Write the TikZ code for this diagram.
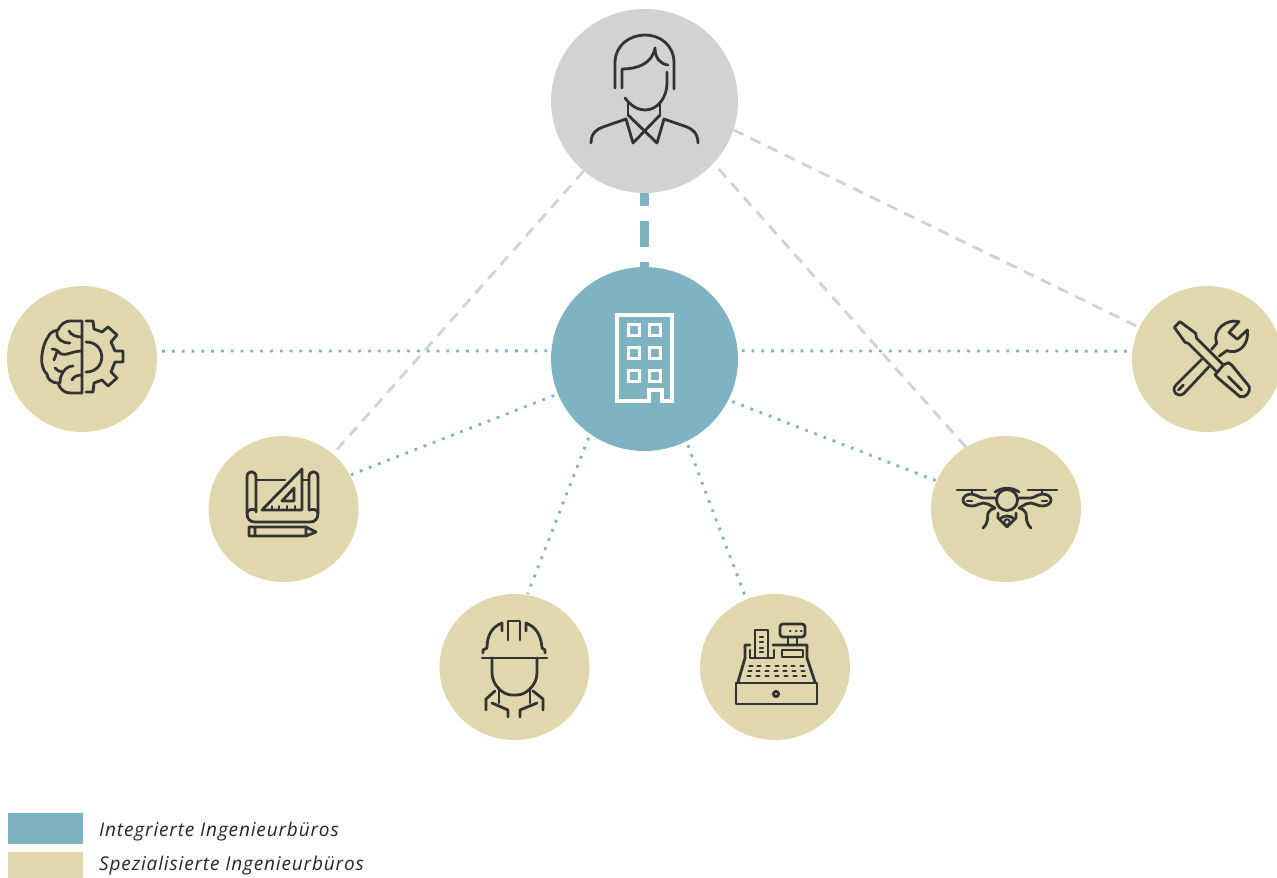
\documentclass[tikz,border=0pt]{standalone}
\usepackage{fontspec}
\usepackage{xcolor}
\usepackage{tikz}
\usetikzlibrary{arrows,shapes,decorations}
\setmainfont{Open Sans}
\newfontfamily\legendfont[LetterSpace=4.5]{Open Sans}
\definecolor{hubteal}{HTML}{80B3C2}
\definecolor{sand}{HTML}{E0D8AC}
\definecolor{topgray}{HTML}{D1D2D4}
\definecolor{linegray}{HTML}{D2D2D2}
\definecolor{iconink}{HTML}{333333}
\tikzset{
  bubble/.style={ellipse, minimum width=150pt, minimum height=146pt, inner sep=0pt, fill=sand},
  bigbubble/.style={ellipse, minimum width=187pt, minimum height=184pt, inner sep=0pt},
  dotline/.style={draw=hubteal, line width=2.8pt, dash pattern=on 2.8pt off 7pt, shorten >=1pt, shorten <=4pt},
  dashline/.style={draw=linegray, line width=2.8pt, dash pattern=on 11pt off 8pt},
  icon/.style={draw=iconink, line width=2.8pt, line cap=round, line join=round},
  whiteicon/.style={draw=white, line width=3.4pt, line join=miter},
  legendbox/.style={minimum width=75pt, inner sep=0pt, anchor=north west},
  legendtext/.style={anchor=base west, inner sep=0pt, font=\legendfont\fontsize{19pt}{22pt}\selectfont\itshape, text=black!85}
}
\begin{document}
\begin{tikzpicture}[x=1pt, y=-1pt]
\useasboundingbox (0,0) rectangle (1277,878);
% circles
\node[bigbubble, fill=topgray] (person) at (644.5,101) {};
\node[bigbubble, fill=hubteal] (hub) at (644.5,359) {};
\node[bubble] (brain) at (82,359) {};
\node[bubble] (plan) at (283.5,509) {};
\node[bubble] (helmet) at (514.5,667) {};
\node[bubble] (till) at (775,667) {};
\node[bubble] (drone) at (1006,509) {};
\node[bubble] (tools) at (1207,359) {};
% connectors
\foreach \a/\b in {person.229/plan.48, drone.123/person.-42, person.-18/tools.155}
\draw[dashline] (\a) -- (\b);
\foreach \a/\b in {hub.175/brain.6, hub.5/tools.174, hub.202/plan.27, hub.-126/helmet.80,
                   hub.-63/till.113, hub.-26/drone.158}
\draw[dotline] (\a) -- (\b);
\draw[draw=hubteal, line width=9pt, dash pattern=on 26pt off 15pt, dash phase=13pt] (person.south) -- (hub.north);
% person
\draw[icon] (615,88) -- (615,63) .. controls (615,45) and (630,35) .. (645,35)
  .. controls (660,35) and (674,45) .. (674,63) -- (674,89);
\draw[icon] (622,88) -- (622,69) .. controls (637,69) and (652,64) .. (655,48)
  .. controls (655,58) and (660,64) .. (668,65);
\draw[icon] (625,98) .. controls (631,106) and (638,110) .. (645,110)
  .. controls (658,110) and (667,97) .. (667,83) -- (667,72);
\draw[icon] (628,103) -- (628,115) (660,103) -- (660,115);
\draw[icon] (591,143) .. controls (591,133) and (597,129) .. (603,127) -- (626,119) -- (633,143) -- (660,115);
\draw[icon] (698,143) .. controls (698,133) and (692,129) .. (687,127) -- (664,119) -- (657,143) -- (628,115);
% building
\draw[whiteicon] (617,315) -- (672,315) -- (672,401) -- (662,401) -- (662,390) -- (649,390) -- (649,401) -- (617,401) -- cycle;
\foreach \x in {634,655}
\foreach \y in {330,353,376}
\draw[whiteicon, xshift=\x pt, yshift=-\y pt] (-5.5,-5.5) rectangle (5.5,5.5);
% brain and gear
\draw[icon] (82,321) -- (82,393) -- (70,393) .. controls (64,393) and (60,389) .. (58,383)
  .. controls (52,383) and (47,379) .. (47,374) .. controls (42,370) and (41,360) .. (42,355)
  .. controls (43,347) and (45,341) .. (48,337) .. controls (50,332) and (54,331) .. (58,330)
  .. controls (60,325) and (65,321) .. (70,321) -- (82,321);
\draw[icon] (69,331) .. controls (71,335) and (76,337) .. (82,337);
\draw[icon] (57,332) .. controls (56,339) and (62,343) .. (70,343);
\draw[icon] (52,349) .. controls (56,349) and (58,351) .. (61,354) .. controls (67,356) and (72,351) .. (82,351);
\draw[icon] (57,352) -- (54,360);
\draw[icon] (55,368) .. controls (58,371) and (60,372) .. (63,372) .. controls (66,368) and (69,366) .. (73,366);
\draw[icon] (60,383) .. controls (60,378) and (61,375) .. (63,372);
\draw[icon] (72,380) .. controls (73,377) and (77,375) .. (82,375);
\draw[icon] (86,321) -- (93,321) -- (94,329) -- (102,332) -- (108,327) -- (117,335) -- (111,342) -- (115,351)
  -- (123,351) -- (123,362) -- (115,362) -- (111,372) -- (117,378) -- (108,386) -- (102,380) -- (94,383) -- (93,392) -- (86,392);
\draw[icon] (86,342) .. controls (107,342) and (107,372) .. (86,372);
% plan
\draw[icon] (256,512) -- (256,477) .. controls (256,470) and (247,470) .. (247,477) -- (247,513)
  .. controls (247,519) and (250,522) .. (255,522) -- (310,522) .. controls (315,522) and (318,519) .. (318,513)
  -- (318,477) .. controls (318,470) and (309,470) .. (309,477) -- (309,510);
\draw[icon] (247,513) .. controls (248,509) and (252,509) .. (256,510) (318,513) .. controls (317,509) and (313,509) .. (309,510);
\draw[icon] (256,480) -- (285,480) (302,480) -- (309,480);
\draw[icon] (302,469) -- (302,510) -- (262,510) -- cycle;
\draw[icon] (294,488) -- (294,501) -- (282,501) -- cycle;
\foreach \x in {272,279,287,295}
\draw[icon, line width=1.8pt] (\x,510) -- (\x,506);
\draw[icon] (249,527) -- (306,527) -- (316,532) -- (306,536) -- (249,536) -- cycle (255,527) -- (255,536) (306,527) -- (306,536);
% helmet
\draw[icon] (482,658) -- (547,658);
\draw[icon] (483,653) -- (483,650) -- (487,648) .. controls (487,635) and (492,627) .. (502,623) -- (502,631);
\draw[icon] (508,640) -- (508,621) -- (520,621) -- (520,640);
\draw[icon] (545,653) -- (545,650) -- (542,648) .. controls (541,635) and (536,627) .. (526,623) -- (526,631);
\draw[icon] (492,658) -- (492,673) .. controls (492,685) and (503,695) .. (512,695) -- (517,695)
  .. controls (526,695) and (537,685) .. (537,673) -- (537,658);
\draw[icon] (499,688) -- (499,703) (530,688) -- (530,703);
\draw[icon] (495,691) -- (486,699) -- (486,710) (492,703) -- (508,710) -- (508,717);
\draw[icon] (533,691) -- (543,699) -- (543,710) (537,703) -- (520,710) -- (520,717);
% till
\draw[icon] (736,683) rectangle (817,704);
\draw[icon] (776,694) circle (2.6);
\draw[icon] (738,682) -- (745,658) -- (745,645) -- (750,645);
\draw[icon] (815,682) -- (807,658) -- (807,645) -- (773,645);
\draw[icon] (750,650) -- (750,658) -- (774,658) -- (774,650);
\draw[icon] (755,658) -- (755,630) -- (768,630) -- (768,658);
\foreach \y in {637,642,648,652}
\draw[icon, line width=2.2pt] (760,\y) -- (763,\y);
\draw[icon, rounded corners=3pt] (780,624) rectangle (805,637);
\foreach \x in {790,796,801}
\draw[icon, line width=2.2pt] (\x,631) -- (\x+0.5,631);
\draw[icon] (788,637) -- (788,645) (797,637) -- (797,645);
\draw[icon] (782,650) rectangle (803,657);
\foreach \x in {751,759,768,777,785,793,802}
\draw[icon, line width=2.2pt] (\x-1.5,666) -- (\x+1.5,666);
\foreach \x in {750,758,767,776,785,794,803}
\draw[icon, line width=2.2pt] (\x-1.5,671) -- (\x+1.5,671);
\foreach \x in {749,758,767,777,786,795,804}
\draw[icon, line width=2.2pt] (\x-1.5,676) -- (\x+1.5,676);
% drone
\draw[icon] (1007,500) circle (10.5);
\draw[icon] (995,492) .. controls (1002,487) and (1012,487) .. (1019,492);
\draw[icon] (957,490) -- (986,490) (1028,490) -- (1057,490) (972,490) -- (972,494) (1042,490) -- (1042,494);
\draw[icon] (995,498) -- (983,498) .. controls (978,497) and (976,494) .. (972,494)
  .. controls (960,494) and (960,506) .. (972,506) .. controls (977,506) and (979,503) .. (983,503) -- (988,504) -- (995,508);
\draw[icon] (1019,498) -- (1031,498) .. controls (1036,497) and (1038,494) .. (1042,494)
  .. controls (1054,494) and (1054,506) .. (1042,506) .. controls (1037,506) and (1035,503) .. (1031,503) -- (1026,504) -- (1019,508);
\draw[icon] (967,501) -- (972,501) (1042,501) -- (1047,501);
\draw[icon] (983,528) .. controls (989,522) and (987,518) .. (988,513) .. controls (989,510) and (992,509) .. (995,508);
\draw[icon] (1031,528) .. controls (1025,522) and (1027,518) .. (1026,513) .. controls (1025,510) and (1022,509) .. (1019,508);
\draw[icon] (998,513) -- (998,518) -- (1007,527) -- (1016,518) -- (1016,513);
\draw[icon] (1000,519) .. controls (1003,515) and (1011,515) .. (1014,519);
\draw[icon, line width=2pt] (1007,522) circle (2.8);
% tools
\begin{scope}[xshift=1160pt, yshift=-310pt, scale=1/3]
\draw[icon] (43,52) -- (60,35) -- (107,70) -- (110,85) -- (190,165) (85,100) -- (75,97) -- (43,52) (85,100) -- (170,185);
\draw[icon] (190,165) -- (205,158) -- (215,165) -- (268,230) .. controls (272,245) and (258,265) .. (240,260)
  -- (175,205) -- (165,195) -- (190,165);
\draw[icon] (205,200) -- (245,240);
\draw[icon] (155,118) -- (170,100) .. controls (155,60) and (200,25) .. (237,35) -- (207,67) -- (232,88) -- (262,60)
  .. controls (268,105) and (235,135) .. (200,122) -- (178,138);
\draw[icon] (125,148) -- (48,225) .. controls (30,245) and (55,265) .. (72,250) -- (147,170);
\draw[icon] (55,240) -- (70,225);
\end{scope}
% legend
\node[legendbox, fill=hubteal, minimum height=31pt] (keyteal) at (8,813) {};
\node[legendbox, fill=sand, minimum height=26pt] (keysand) at (8,852) {};
\node[legendtext] (labelteal) at (99,836) {Integrierte Ingenieurbüros};
\node[legendtext] (labelsand) at (99,870) {Spezialisierte Ingenieurbüros};
\end{tikzpicture}
\end{document}
